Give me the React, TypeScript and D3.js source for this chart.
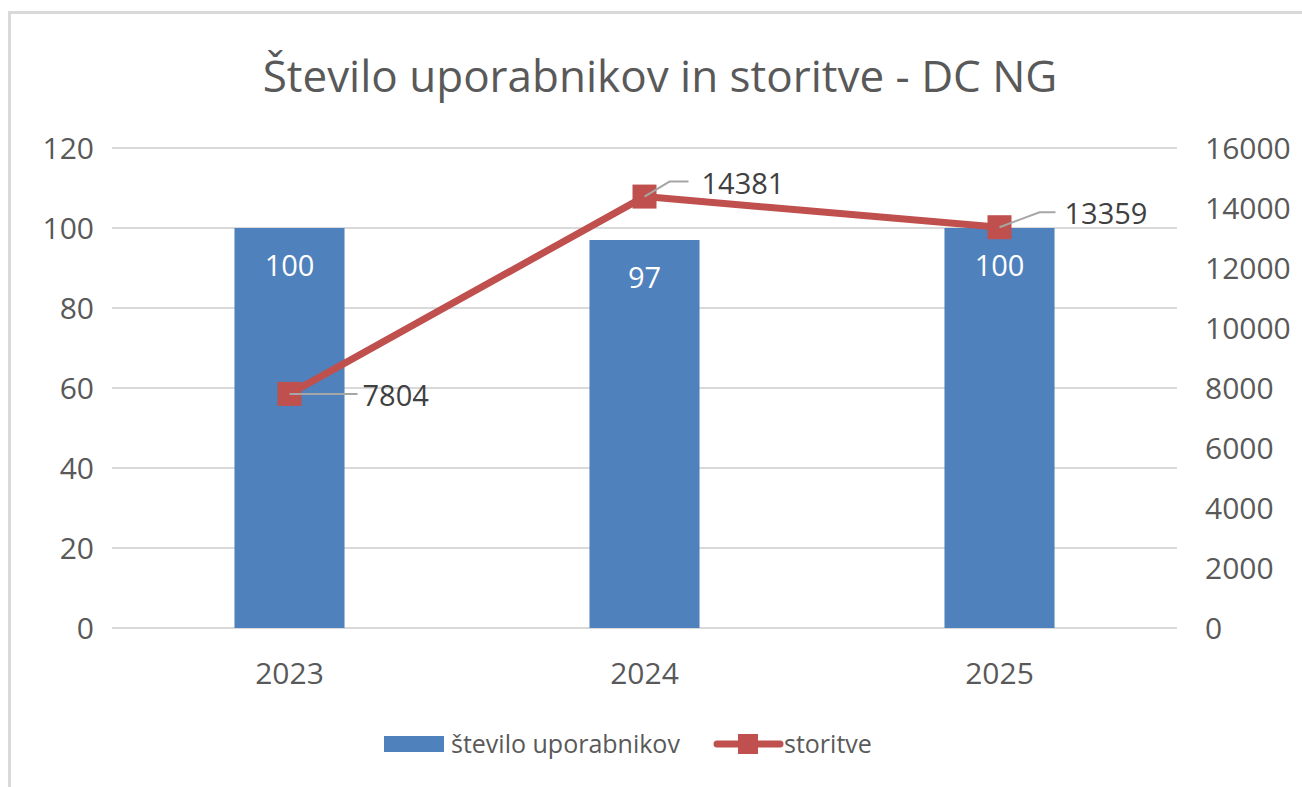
import React, { useEffect, useRef } from "react";
import * as d3 from "d3";

const years = ["2023", "2024", "2025"];
const users = [100, 97, 100];
const services = [7804, 14381, 13359];
const leftTicks = [0, 20, 40, 60, 80, 100, 120];
const rightTicks = [0, 2000, 4000, 6000, 8000, 10000, 12000, 14000, 16000];

const W = 1302;
const H = 787;
const FONT = "'Open Sans', sans-serif";
const TEXT = "#595959";

const App = () => {
  const svgRef = useRef<SVGSVGElement>(null);

  useEffect(() => {
    const svg = d3.select(svgRef.current);
    svg.selectAll("*").remove();

    const margin = { top: 148, right: 125, bottom: 159, left: 112 };
    const innerW = W - margin.left - margin.right;

    // outer frame
    svg
      .append("rect")
      .attr("x", 9.5)
      .attr("y", 12.5)
      .attr("width", W)
      .attr("height", H)
      .attr("fill", "white")
      .attr("stroke", "#d9d9d9")
      .attr("stroke-width", 3);

    svg
      .append("text")
      .attr("x", 660)
      .attr("y", 92)
      .attr("text-anchor", "middle")
      .attr("font-family", FONT)
      .attr("font-size", 44)
      .attr("fill", TEXT)
      .text("Število uporabnikov in storitve - DC NG");

    const x = d3
      .scaleBand()
      .domain(years)
      .range([margin.left, margin.left + innerW])
      .paddingInner(0.69)
      .paddingOuter(0.345);

    const yL = d3.scaleLinear().domain([0, 120]).range([H - margin.bottom, margin.top]);
    const yR = d3.scaleLinear().domain([0, 16000]).range([H - margin.bottom, margin.top]);

    // gridlines
    svg
      .append("g")
      .selectAll("line")
      .data(leftTicks)
      .join("line")
      .attr("x1", margin.left)
      .attr("x2", margin.left + innerW)
      .attr("y1", (d) => yL(d))
      .attr("y2", (d) => yL(d))
      .attr("stroke", "#d9d9d9")
      .attr("stroke-width", 2);

    // left axis labels
    svg
      .append("g")
      .selectAll("text")
      .data(leftTicks)
      .join("text")
      .attr("x", 94)
      .attr("y", (d) => yL(d))
      .attr("dy", "0.35em")
      .attr("text-anchor", "end")
      .attr("font-family", FONT)
      .attr("font-size", 30)
      .attr("fill", TEXT)
      .text((d) => d);

    // right axis labels
    svg
      .append("g")
      .selectAll("text")
      .data(rightTicks)
      .join("text")
      .attr("x", 1205)
      .attr("y", (d) => yR(d))
      .attr("dy", "0.35em")
      .attr("text-anchor", "start")
      .attr("font-family", FONT)
      .attr("font-size", 30)
      .attr("fill", TEXT)
      .text((d) => d);

    // category labels
    svg
      .append("g")
      .selectAll("text")
      .data(years)
      .join("text")
      .attr("x", (d) => x(d)! + x.bandwidth() / 2)
      .attr("y", 673)
      .attr("dy", "0.35em")
      .attr("text-anchor", "middle")
      .attr("font-family", FONT)
      .attr("font-size", 30)
      .attr("fill", TEXT)
      .text((d) => d);

    // bars
    svg
      .append("g")
      .selectAll("rect")
      .data(users)
      .join("rect")
      .attr("x", (d, i) => x(years[i])!)
      .attr("y", (d) => yL(d))
      .attr("width", x.bandwidth())
      .attr("height", (d) => yL(0) - yL(d))
      .attr("fill", "#4f81bd");

    svg
      .append("g")
      .selectAll("text")
      .data(users)
      .join("text")
      .attr("x", (d, i) => x(years[i])! + x.bandwidth() / 2)
      .attr("y", (d) => yL(d) + 38)
      .attr("dy", "0.35em")
      .attr("text-anchor", "middle")
      .attr("font-family", FONT)
      .attr("font-size", 29)
      .attr("fill", "white")
      .text((d) => d);

    // line series
    const cx = (i: number) => x(years[i])! + x.bandwidth() / 2;
    const line = d3
      .line<number>()
      .x((d, i) => cx(i))
      .y((d) => yR(d));

    svg
      .append("path")
      .datum(services)
      .attr("d", line)
      .attr("fill", "none")
      .attr("stroke", "#c0504d")
      .attr("stroke-width", 7)
      .attr("stroke-linejoin", "round");

    svg
      .append("g")
      .selectAll("rect")
      .data(services)
      .join("rect")
      .attr("x", (d, i) => cx(i) - 12)
      .attr("y", (d) => yR(d) - 12)
      .attr("width", 24)
      .attr("height", 24)
      .attr("fill", "#c0504d");

    // leader lines + labels (offsets for each label)
    const offsets = [
      { dx: 0, dy: 0, hx: 68, tx: 73 },
      { dx: 25, dy: -15, hx: 44, tx: 57 },
      { dx: 40, dy: -15, hx: 56, tx: 65 },
    ];
    services.forEach((v, i) => {
      const px = cx(i);
      const py = yR(v);
      const o = offsets[i];
      svg
        .append("polyline")
        .attr("points", `${px},${py} ${px + o.dx},${py + o.dy} ${px + o.hx},${py + o.dy}`)
        .attr("fill", "none")
        .attr("stroke", "#a6a6a6")
        .attr("stroke-width", 2);
      svg
        .append("text")
        .attr("x", px + o.tx)
        .attr("y", py + o.dy + 2)
        .attr("dy", "0.35em")
        .attr("font-family", FONT)
        .attr("font-size", 29)
        .attr("fill", "#404040")
        .text(v);
    });

    // legend
    const lg = svg.append("g").attr("transform", "translate(0,744)");
    lg.append("rect")
      .attr("x", 384)
      .attr("y", -8)
      .attr("width", 60)
      .attr("height", 16)
      .attr("fill", "#4f81bd");
    lg.append("text")
      .attr("x", 451)
      .attr("y", 0)
      .attr("dy", "0.35em")
      .attr("font-family", FONT)
      .attr("font-size", 25)
      .attr("fill", TEXT)
      .text("število uporabnikov");
    lg.append("line")
      .attr("x1", 717)
      .attr("x2", 780)
      .attr("y1", 0)
      .attr("y2", 0)
      .attr("stroke", "#c0504d")
      .attr("stroke-width", 7)
      .attr("stroke-linecap", "round");
    lg.append("rect")
      .attr("x", 738)
      .attr("y", -10)
      .attr("width", 20)
      .attr("height", 20)
      .attr("fill", "#c0504d");
    lg.append("text")
      .attr("x", 784)
      .attr("y", 0)
      .attr("dy", "0.35em")
      .attr("font-family", FONT)
      .attr("font-size", 25)
      .attr("fill", TEXT)
      .text("storitve");
  }, []);

  return (
    <svg
      ref={svgRef}
      width={W}
      height={H}
      style={{ position: "absolute", left: 0, top: 0, background: "white" }}
    />
  );
};

export default App;
